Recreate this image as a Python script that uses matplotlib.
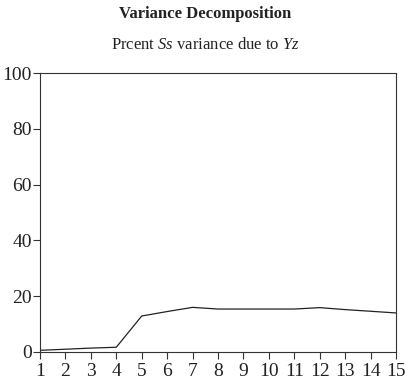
import matplotlib
matplotlib.use("Agg")
import matplotlib.pyplot as plt

plt.rcParams['font.family'] = ['Liberation Serif', 'DejaVu Serif']
plt.rcParams['mathtext.fontset'] = 'custom'
plt.rcParams['mathtext.rm'] = 'Liberation Serif'
plt.rcParams['mathtext.it'] = 'Liberation Serif:italic'

periods = [1, 2, 3, 4, 5, 6, 7, 8, 9, 10, 11, 12, 13, 14, 15]
values = [0.6, 1.0, 1.4, 1.7, 12.9, 14.5, 16.0, 15.4, 15.4, 15.4, 15.4, 15.9, 15.2, 14.6, 14.0]
yticks = [0, 20, 40, 60, 80, 100]

fig = plt.figure(figsize=(4.11, 3.86), dpi=100)
ax = fig.add_axes([40/411, 1-352/386, 356/411, 279/386])
ax.plot(periods, values, color='#222222', lw=0.9)
ax.set_xlim(1, 15)
ax.set_ylim(0, 100)
ax.set_xticks(periods)
ax.set_yticks(yticks)
ax.tick_params(direction='out', length=5, width=0.8, labelsize=14, colors='#333333', labelcolor='#222222')
ax.tick_params(axis='x', pad=3)
ax.tick_params(axis='y', pad=1)
for s in ax.spines.values():
    s.set_linewidth(0.8)
    s.set_color('#333333')

fig.text(0.5, 1-14/386, 'Variance Decomposition', ha='center', va='center', fontsize=12, fontweight='bold', color='#222222')
fig.text(0.5, 1-45/386, 'Prcent $Ss$ variance due to $Yz$', ha='center', va='center', fontsize=12, color='#222222')

fig.savefig('out.png', dpi=100)
